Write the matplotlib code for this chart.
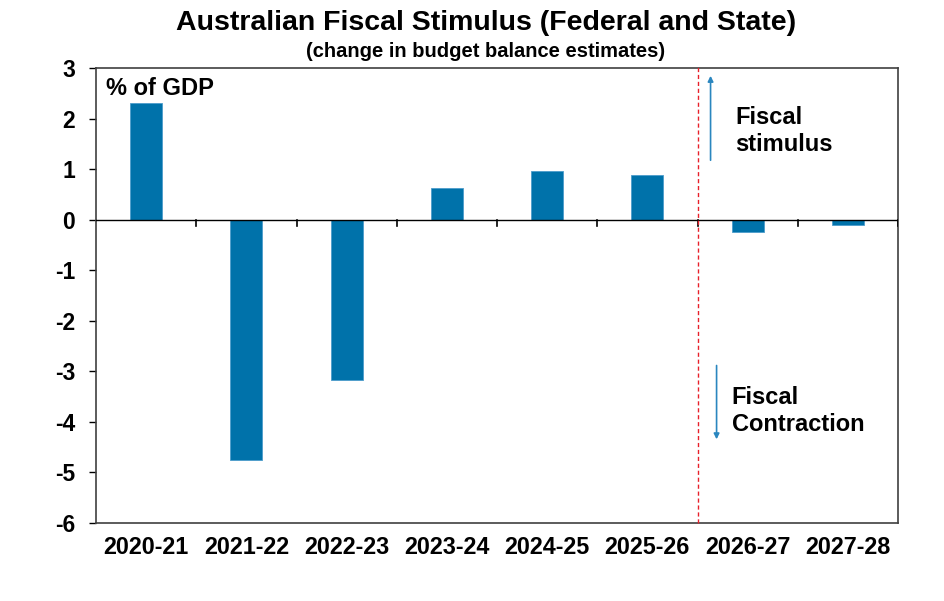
import matplotlib.pyplot as plt
import numpy as np

plt.rcParams['font.family'] = ['Liberation Sans', 'DejaVu Sans']
plt.rcParams['font.weight'] = 'bold'

# data
years = ['2020-21', '2021-22', '2022-23', '2023-24', '2024-25', '2025-26', '2026-27', '2027-28']
stimulus = [2.30, -4.75, -3.18, 0.62, 0.96, 0.88, -0.24, -0.11]
yticks = [-6, -5, -4, -3, -2, -1, 0, 1, 2, 3]

bar_col = '#0072AA'
arrow_col = '#2A86BF'

fig = plt.figure(figsize=(9.45, 6.01), dpi=100)
ax = fig.add_axes([0.1016, 0.1298, 0.8487, 0.7571])

x = np.arange(len(years))
ax.bar(x, stimulus, width=0.32, color=bar_col, edgecolor='#4C9CCB', linewidth=0.6, zorder=2)

ax.set_xlim(-0.5, len(years) - 0.5)
ax.set_ylim(-6, 3)
ax.set_yticks(yticks)
ax.set_yticklabels([str(v) for v in yticks], fontsize=16.5, fontweight='bold')
ax.tick_params(axis='y', length=5, width=1, pad=10)

# category labels below the plot, ticks on the zero line between categories
ax.set_xticks([])
for i, yr in enumerate(years):
    ax.text(i, -6.25, yr, ha='center', va='top', fontsize=16.8, fontweight='bold')
ax.axhline(0, color='black', linewidth=1, zorder=3)
for b in np.arange(0.5, len(years), 1.0):
    ax.plot([b, b], [0, -0.12], color='black', linewidth=1.2, zorder=3)

for s in ax.spines.values():
    s.set_color('#404040')
    s.set_linewidth(1.2)

# forecast divider
ax.plot([5.5, 5.5], [-6, 3.06], color='#E8202A', linestyle=(0, (3, 2)), linewidth=1, clip_on=False, zorder=4)

# direction arrows
ax.annotate('', xy=(5.63, 2.9), xytext=(5.63, 1.12),
            arrowprops=dict(arrowstyle='-|>', color=arrow_col, lw=1.2, mutation_scale=8))
ax.annotate('', xy=(5.69, -4.4), xytext=(5.69, -2.83),
            arrowprops=dict(arrowstyle='-|>', color=arrow_col, lw=1.2, mutation_scale=8))

ax.text(5.88, 1.75, 'Fiscal\nstimulus', fontsize=17, fontweight='bold', va='center', ha='left', linespacing=1.25)
ax.text(5.84, -3.78, 'Fiscal\nContraction', fontsize=17, fontweight='bold', va='center', ha='left', linespacing=1.25)
ax.text(0.012, 0.955, '% of GDP', transform=ax.transAxes, fontsize=17, fontweight='bold', va='center', ha='left')

fig.text(0.514, 0.962, 'Australian Fiscal Stimulus (Federal and State)', ha='center', va='center',
         fontsize=20.5, fontweight='bold')
fig.text(0.514, 0.914, '(change in budget balance estimates)', ha='center', va='center',
         fontsize=14.5, fontweight='bold')

fig.savefig('out.png', dpi=100)
